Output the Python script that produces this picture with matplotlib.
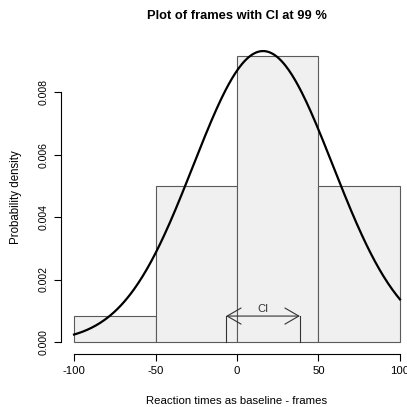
import numpy as np
import matplotlib
matplotlib.use("Agg")
import matplotlib.pyplot as plt

plt.rcParams['font.family'] = ['Liberation Sans', 'DejaVu Sans']
plt.rcParams['axes.unicode_minus'] = False

# histogram data (frames)
breaks = [-100, -50, 0, 50, 100]
counts = [2, 12, 22, 12]
# fitted normal curve
mu = 16.0
sigma = 42.85
# confidence interval at 99 %
ci_low = -6.7
ci_high = 38.6
ci_y = 0.00083

xticks = [-100, -50, 0, 50, 100]
yticks = [0.000, 0.002, 0.004, 0.006, 0.008]

W = 407
fig = plt.figure(figsize=(W / 100, W / 100), dpi=100)
ax = fig.add_axes([61 / W, 1 - 354 / W, 352 / W, 314 / W])

mids = [(breaks[i] + breaks[i + 1]) / 2 for i in range(len(counts))]
ax.hist(mids, bins=breaks, weights=counts, density=True,
        color='#f0f0f0', edgecolor='#5a5a5a', linewidth=0.8)

xs = np.linspace(breaks[0], breaks[-1], 300)
ys = np.exp(-0.5 * ((xs - mu) / sigma) ** 2) / (sigma * np.sqrt(2 * np.pi))
ax.plot(xs, ys, color='black', linewidth=1.6)

# CI arrow
ax.plot([ci_low, ci_low], [0, ci_y], color='#333333', linewidth=0.8)
ax.plot([ci_high, ci_high], [0, ci_y], color='#333333', linewidth=0.8)
ax.annotate('', xy=(ci_low, ci_y), xytext=(ci_high, ci_y),
            arrowprops=dict(arrowstyle='<->,head_length=0.5,head_width=0.29',
                            color='#333333', lw=0.8, shrinkA=0, shrinkB=0,
                            mutation_scale=20))
ax.text((ci_low + ci_high) / 2, ci_y + 0.00006, 'CI', ha='center', va='bottom',
        fontsize=8, color='#333333')

ax.set_xlim(-108, 108)
ax.set_ylim(-0.000384, 0.009664)
ax.set_xticks(xticks)
ax.set_xticklabels([str(t) for t in xticks])
ax.set_yticks(yticks)
ax.set_yticklabels(['%.3f' % t for t in yticks])

for s in ['top', 'right']:
    ax.spines[s].set_visible(False)
ax.spines['left'].set_bounds(0, 0.008)
ax.spines['bottom'].set_bounds(-100, 100)
ax.spines['left'].set_linewidth(0.8)
ax.spines['bottom'].set_linewidth(0.8)
ax.tick_params(direction='out', length=5, width=0.8, colors='black')
ax.tick_params(axis='x', pad=4, labelsize=8.2)
ax.tick_params(axis='y', pad=4, labelsize=7.6)
for lab in ax.get_yticklabels():
    lab.set_rotation(90)
    lab.set_va('center')

ax.set_xlabel('Reaction times as baseline - frames', fontsize=8.2)
ax.xaxis.set_label_coords(0.5, -0.135)
ax.set_ylabel('Probability density', fontsize=8.3)
ax.yaxis.set_label_coords(-0.112, 0.5)

fig.text(237 / W, 1 - 16 / W, 'Plot of frames with CI at 99 %', ha='center',
         va='center', fontsize=9.3, fontweight='bold')

fig.savefig('out.png', dpi=100)
